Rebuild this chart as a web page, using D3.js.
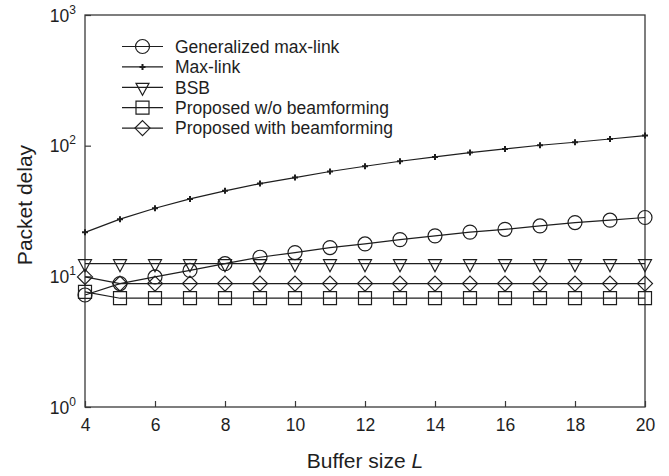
<!DOCTYPE html>
<html>
<head>
<meta charset="utf-8">
<script src="https://cdn.jsdelivr.net/npm/d3@7"></script>
<style>
  html, body { margin: 0; padding: 0; background: #fff; }
  svg { display: block; font-family: "Liberation Sans", Arial, Helvetica, sans-serif; }
</style>
</head>
<body>
<svg id="chart" width="669" height="476"></svg>
<script>
// Buffer sizes on the x axis
const bufferSizes = [4, 5, 6, 7, 8, 9, 10, 11, 12, 13, 14, 15, 16, 17, 18, 19, 20];

// Packet delay per scheme
const generalizedMaxLink = [7.2, 8.8, 9.9, 11.1, 12.5, 14.0, 15.2, 16.6, 17.7, 19.1, 20.4, 21.8, 22.9, 24.3, 25.8, 26.9, 28.2];
const maxLink = [21.7, 27.4, 33.2, 39.1, 45.1, 51.3, 57.0, 63.4, 69.6, 76.0, 82.0, 88.5, 94.4, 100.7, 106.2, 112.5, 119.5];
const bsb = [12.5, 12.5, 12.5, 12.5, 12.5, 12.5, 12.5, 12.5, 12.5, 12.5, 12.5, 12.5, 12.5, 12.5, 12.5, 12.5, 12.5];
const proposedWithoutBF = [7.6, 6.8, 6.8, 6.8, 6.8, 6.8, 6.8, 6.8, 6.8, 6.8, 6.8, 6.8, 6.8, 6.8, 6.8, 6.8, 6.8];
const proposedWithBF = [9.9, 8.8, 8.8, 8.8, 8.8, 8.8, 8.8, 8.8, 8.8, 8.8, 8.8, 8.8, 8.8, 8.8, 8.8, 8.8, 8.8];

const seriesNames = ["Generalized max-link", "Max-link", "BSB", "Proposed w/o beamforming", "Proposed with beamforming"];
const xTicks = [4, 6, 8, 10, 12, 14, 16, 18, 20];
const yTicks = [1, 10, 100, 1000];

const series = [
  { name: seriesNames[0], values: generalizedMaxLink, marker: "circle" },
  { name: seriesNames[1], values: maxLink, marker: "plus" },
  { name: seriesNames[2], values: bsb, marker: "triangleDown" },
  { name: seriesNames[3], values: proposedWithoutBF, marker: "square" },
  { name: seriesNames[4], values: proposedWithBF, marker: "diamond" }
];

const ink = "#1e1e1e";
const svg = d3.select("#chart");
const plotLeft = 85, plotRight = 645, plotTop = 15, plotBottom = 407;

const x = d3.scaleLinear().domain([4, 20]).range([plotLeft, plotRight]);
const y = d3.scaleLog().domain([1, 1000]).range([plotBottom, plotTop]);

// Marker shapes, centred on the data point
function markerPath(type) {
  switch (type) {
    case "circle": return d3.arc()({innerRadius: 0, outerRadius: 7, startAngle: 0, endAngle: 2 * Math.PI});
    case "square": return "M-6.5,-6.5H6.5V6.5H-6.5Z";
    case "diamond": return "M0,-7.5L7.5,0L0,7.5L-7.5,0Z";
    case "triangleDown": return "M-6.5,-4L6.5,-4L0,8Z";
    case "plus": return "M-3,0H3M0,-3V3";
  }
}

function drawMarker(g, type, cx, cy) {
  g.append("path")
    .attr("d", markerPath(type))
    .attr("transform", `translate(${cx},${cy})`)
    .attr("fill", "none")
    .attr("stroke", ink)
    .attr("stroke-width", type === "plus" ? 2 : 1.2);
}

// Plot frame
svg.append("rect")
  .attr("x", plotLeft).attr("y", plotTop)
  .attr("width", plotRight - plotLeft).attr("height", plotBottom - plotTop)
  .attr("fill", "none").attr("stroke", "#3a3a3a").attr("stroke-width", 1.3);

// X axis
const xAxis = svg.append("g")
  .attr("transform", `translate(0,${plotBottom})`)
  .call(d3.axisBottom(x).tickValues(xTicks).tickSizeInner(-6).tickSizeOuter(0).tickPadding(12));
xAxis.select(".domain").remove();
xAxis.selectAll(".tick line").attr("stroke", "#3a3a3a").attr("stroke-width", 1.2);
xAxis.selectAll(".tick text")
  .attr("font-size", 17.5).attr("fill", ink)
  .attr("font-family", "Liberation Sans, Arial, sans-serif");

// Y axis (log scale, powers of ten)
const yAxis = svg.append("g")
  .attr("transform", `translate(${plotLeft},0)`)
  .call(d3.axisLeft(y).tickValues(yTicks).tickSizeInner(-6).tickSizeOuter(0).tickFormat(() => ""));
yAxis.select(".domain").remove();
yAxis.selectAll(".tick line").attr("stroke", "#3a3a3a").attr("stroke-width", 1.2);
yAxis.selectAll(".tick").each(function(d) {
  const t = d3.select(this).select("text")
    .attr("x", -9).attr("dy", null).attr("y", 6)
    .attr("text-anchor", "end").attr("fill", ink)
    .attr("font-family", "Liberation Sans, Arial, sans-serif");
  t.append("tspan").attr("font-size", 17.5).text("10");
  t.append("tspan").attr("font-size", 12).attr("dy", -8).text(Math.round(Math.log10(d)));
});

// Series lines and markers
const line = d3.line().x((d, i) => x(bufferSizes[i])).y(d => y(d));
series.forEach(s => {
  svg.append("path")
    .datum(s.values)
    .attr("d", line)
    .attr("fill", "none")
    .attr("stroke", ink)
    .attr("stroke-width", 1.2);
  const g = svg.append("g");
  s.values.forEach((v, i) => drawMarker(g, s.marker, x(bufferSizes[i]), y(v)));
});

// Legend
const legend = svg.append("g");
series.forEach((s, i) => {
  const ly = 46.5 + i * 20.4;
  legend.append("line")
    .attr("x1", 122).attr("x2", 163).attr("y1", ly).attr("y2", ly)
    .attr("stroke", ink).attr("stroke-width", 1.2);
  drawMarker(legend, s.marker, 142.5, ly);
  legend.append("text")
    .attr("x", 175).attr("y", ly + 6.2)
    .attr("font-size", 17.5).attr("fill", ink)
    .text(s.name);
});

// Axis titles
svg.append("text")
  .attr("transform", "translate(32,205) rotate(-90)")
  .attr("text-anchor", "middle")
  .attr("font-size", 21).attr("fill", ink)
  .text("Packet delay");

const xt = svg.append("text")
  .attr("x", 365).attr("y", 468)
  .attr("text-anchor", "middle")
  .attr("font-size", 21).attr("fill", ink);
xt.append("tspan").text("Buffer size ");
xt.append("tspan").attr("font-style", "italic").text("L");
</script>
</body>
</html>
